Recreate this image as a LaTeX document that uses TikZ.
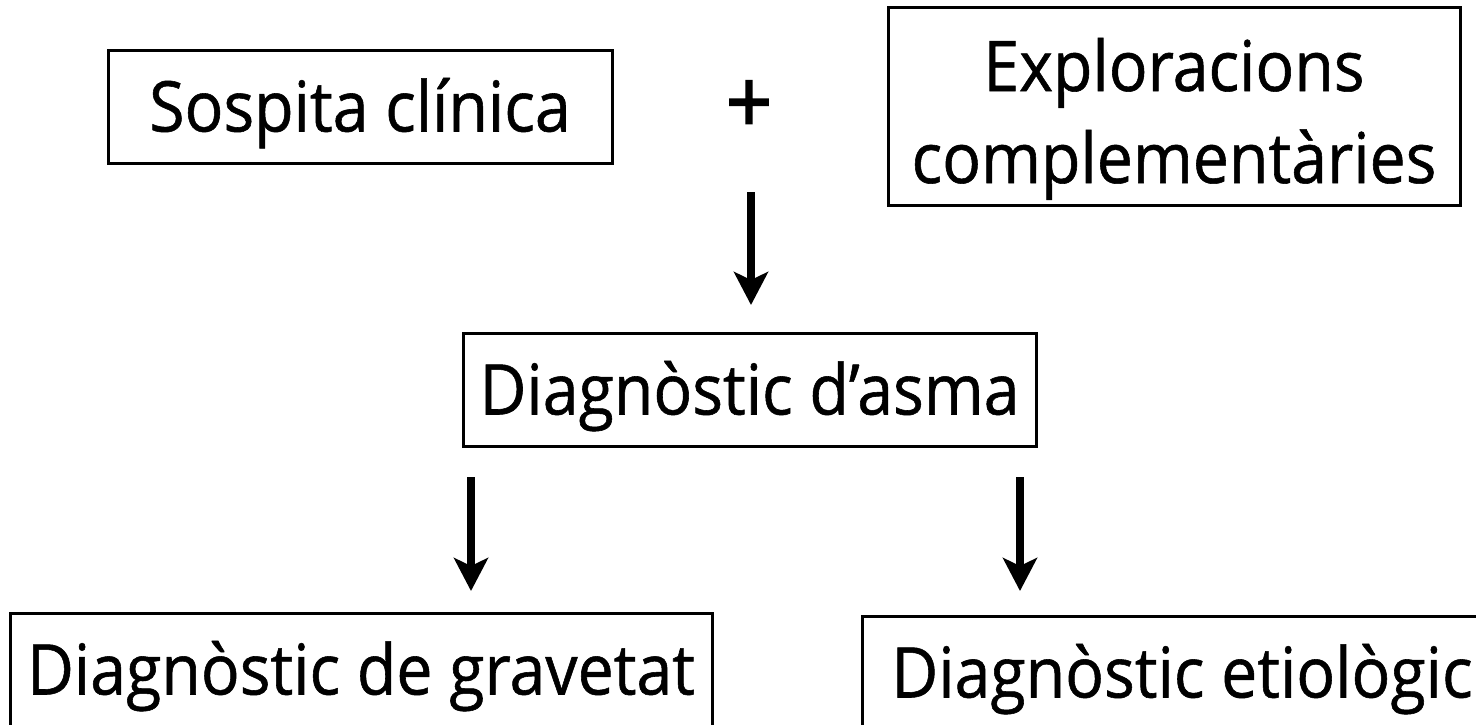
\documentclass[tikz,border=0pt]{standalone}
\usepackage{fontspec}
\setmainfont{Open Sans}[FakeStretch=0.92,FakeBold=0.8]
\usetikzlibrary{arrows.meta}
\begin{document}
\begin{tikzpicture}[x=1pt,y=-1pt,
  txt/.style={font=\fontsize{70}{92}\selectfont},
  box/.style={draw, line width=3pt, inner sep=0pt, align=center, txt,
    text height=50pt, text depth=0pt},
  arr/.style={line width=7.5pt, -{Stealth[length=33pt,width=34pt,inset=8pt]}}]
\useasboundingbox (0,0) rectangle (1476,724);
\node[box, minimum width=504pt, minimum height=113pt] (sc) at (360,106.5) {Sospita clínica};
\node[font=\fontsize{88}{92}\selectfont\addfontfeature{FakeBold=2}, inner sep=0pt] (plus) at (749,107) {+};
\node[box, minimum width=572pt, minimum height=198pt, text height=153pt] (ec) at (1174,106.5) {Exploracions\\complementàries};
\node[box, minimum width=573pt, minimum height=113pt] (da) at (749.5,389.5) {Diagnòstic d’asma};
\node[box, minimum width=702pt, minimum height=113pt] (dg) at (361,669.5) {Diagnòstic de gravetat};
\node[box, minimum width=640pt, minimum height=113pt] (de) at (1182,672.5) {Diagnòstic etiològic};
\coordinate (a1s) at (751,192);
\coordinate (a1e) at (751,305);
\coordinate (a2s) at (471,477);
\coordinate (a2e) at (471,591);
\coordinate (a3s) at (1020,477);
\coordinate (a3e) at (1020,591);
\draw[arr] (a1s) -- (a1e);
\draw[arr] (a2s) -- (a2e);
\draw[arr] (a3s) -- (a3e);
\end{tikzpicture}
\end{document}
